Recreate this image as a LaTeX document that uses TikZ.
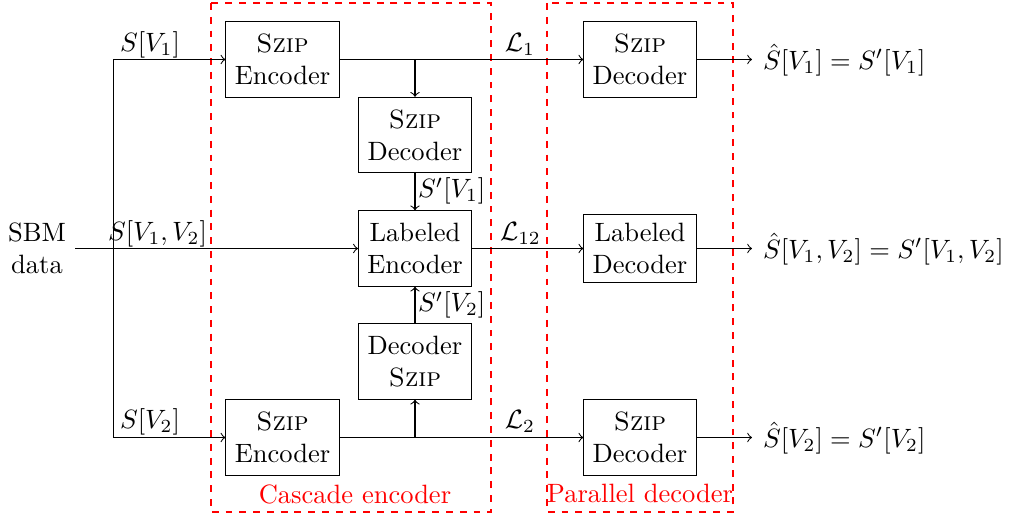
\documentclass[tikz,border=0pt]{standalone}
\begin{document}
\begin{tikzpicture}[x=0.3774pt,y=-0.3774pt,
  box/.style={draw, align=center, minimum height=1cm},
  natbox/.style={draw, align=center},
  lbl/.style={inner sep=0pt},
  outlbl/.style={anchor=base west, inner sep=0pt},
  grp/.style={draw=red, dash pattern=on 2.6pt off 2.6pt},
  grplbl/.style={text=red, inner sep=0pt},
  conn/.style={->}]
\useasboundingbox (0,0) rectangle (1010,513);

% group frames
\draw[grp] (211,3) rectangle (491,512);
\draw[grp] (547,3) rectangle (733,512);
\node[grplbl] (cascl) at (355,494) {Cascade encoder};
\node[grplbl] (parl) at (640,493) {Parallel decoder};

% blocks
\node[align=center] (sbm) at (37,248.5) {SBM\\data};
\node[box] (enc1) at (282.5,59.5) {\textsc{Szip}\\Encoder};
\node[box] (cdec1) at (415,135) {\textsc{Szip}\\Decoder};
\node[box] (lenc) at (415,248.5) {Labeled\\Encoder};
\node[box] (cdec2) at (415,361.5) {Decoder\\\textsc{Szip}};
\node[box] (enc2) at (282.5,437.5) {\textsc{Szip}\\Encoder};
\node[box] (pdec1) at (640,59.5) {\textsc{Szip}\\Decoder};
\node[natbox] (pdecL) at (640,248.5) {Labeled\\Decoder};
\node[box] (pdec2) at (640,437.5) {\textsc{Szip}\\Decoder};

% junction coordinates
\coordinate (s1) at (113.3,59.5);
\coordinate (s2) at (113.3,437.5);
\coordinate (b1) at (415,59.5);
\coordinate (b2) at (415,437.5);
\coordinate (o1) at (752,59.5);
\coordinate (o12) at (752,248.5);
\coordinate (o2) at (752,437.5);

% connectors
\draw (s1) -- (s2);
\draw[conn] (s1) -- (enc1.west);
\draw[conn] (s2) -- (enc2.west);
\draw[conn] (sbm.east) -- (lenc.west);
\draw[conn] (enc1.east) -- (pdec1.west);
\draw[conn] (b1) -- (cdec1.north);
\draw[conn] (cdec1.south) -- (lenc.north);
\draw[conn] (enc2.east) -- (pdec2.west);
\draw[conn] (b2) -- (cdec2.south);
\draw[conn] (cdec2.north) -- (lenc.south);
\draw[conn] (lenc.east) -- (pdecL.west);
\draw[conn] (pdec1.east) -- (o1);
\draw[conn] (pdecL.east) -- (o12);
\draw[conn] (pdec2.east) -- (o2);

% labels
\node[lbl] (ls1) at (150,44.5) {$S[V_1]$};
\node[lbl] (ls12) at (157.5,234) {$S[V_1,V_2]$};
\node[lbl] (ls2) at (150,422) {$S[V_2]$};
\node[lbl] (lsp1) at (451.7,191) {$S'[V_1]$};
\node[lbl] (lsp2) at (451.7,305) {$S'[V_2]$};
\node[lbl] (ll1) at (520,44) {$\mathcal{L}_1$};
\node[lbl] (ll12) at (520.5,233) {$\mathcal{L}_{12}$};
\node[lbl] (ll2) at (520,421.7) {$\mathcal{L}_2$};

% outputs
\node[outlbl] (out1) at (762.5,69.5) {$\hat{S}[V_1]=S'[V_1]$};
\node[outlbl] (out12) at (762.5,258.5) {$\hat{S}[V_1,V_2]=S'[V_1,V_2]$};
\node[outlbl] (out2) at (762.5,447.5) {$\hat{S}[V_2]=S'[V_2]$};
\end{tikzpicture}
\end{document}
